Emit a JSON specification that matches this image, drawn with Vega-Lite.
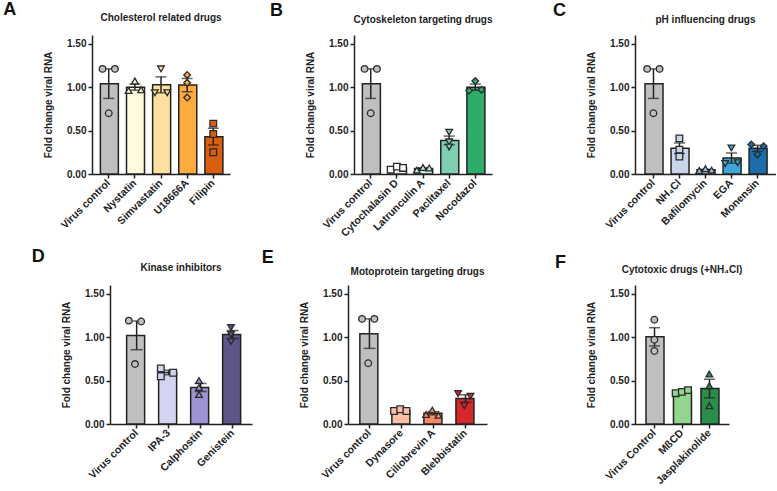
{
  "$schema": "https://vega.github.io/schema/vega-lite/v6.json",
  "background": "white",
  "padding": {"left": 3, "top": 1, "right": 0, "bottom": 0},
  "config": {
    "view": {"stroke": null},
    "font": "Liberation Sans",
    "axis": {"grid": false, "domainColor": "#222", "domainWidth": 1.5, "tickColor": "#222", "tickWidth": 1.5, "tickSize": 4, "labelFont": "Liberation Sans", "labelFontWeight": "bold", "labelFontSize": 10, "labelColor": "#222", "titleFont": "Liberation Sans", "titleFontWeight": "bold", "titleFontSize": 10, "titleColor": "#222"},
    "axisY": {"labelPadding": 2, "titlePadding": 13},
    "axisX": {"labelAngle": -45, "labelAlign": "right", "labelBaseline": "middle", "labelPadding": 3, "labelFontSize": 10.5},
    "title": {"font": "Liberation Sans", "fontSize": 10, "fontWeight": "bold", "color": "#222", "anchor": "middle", "frame": "group", "baseline": "alphabetic"},
    "point": {"size": 44, "strokeWidth": 1.3, "stroke": "#2a2a2a", "opacity": 1}
  },
  "resolve": {"scale": {"fill": "independent", "shape": "independent"}},
  "spacing": 8,
  "vconcat": [
    {
      "bounds": "flush",
      "spacing": 0,
      "resolve": {"scale": {"fill": "independent", "shape": "independent"}},
      "hconcat": [
        {"width": 1, "height": 139, "title": {"text": "A", "anchor": "start", "dx": -87.7, "offset": 15.8, "fontSize": 18, "color": "#111"}, "data": {"values": []}, "mark": "point", "encoding": {}},
        {
          "width": 138, "height": 139,
          "title": {"text": "Cholesterol related drugs", "offset": 12},
          "data": {"values": [
            {"drug": "Virus control", "pos": "L", "value": 1.21},
            {"drug": "Virus control", "pos": "R", "value": 1.21},
            {"drug": "Virus control", "pos": "C", "value": 0.70},
            {"drug": "Nystatin", "pos": "C", "value": 1.07},
            {"drug": "Nystatin", "pos": "L", "value": 0.96},
            {"drug": "Nystatin", "pos": "R", "value": 0.97},
            {"drug": "Simvastatin", "pos": "C", "value": 1.21},
            {"drug": "Simvastatin", "pos": "L", "value": 0.935},
            {"drug": "Simvastatin", "pos": "R", "value": 0.935},
            {"drug": "U18666A", "pos": "C", "value": 1.14},
            {"drug": "U18666A", "pos": "C", "value": 1.05},
            {"drug": "U18666A", "pos": "C", "value": 0.88},
            {"drug": "Filipin", "pos": "C", "value": 0.58},
            {"drug": "Filipin", "pos": "C", "value": 0.46},
            {"drug": "Filipin", "pos": "C", "value": 0.25}
          ]},
          "layer": [
            {"mark": {"type": "bar", "stroke": "#222", "strokeWidth": 1.5},
             "encoding": {
               "x": {"field": "drug", "type": "nominal", "sort": ["Virus control", "Nystatin", "Simvastatin", "U18666A", "Filipin"], "scale": {"paddingInner": 0.36, "paddingOuter": 0.32}, "axis": {"title": null}},
               "y": {"aggregate": "mean", "field": "value", "type": "quantitative", "title": "Fold change viral RNA", "scale": {"domain": [0, 1.5]}, "axis": {"values": [0, 0.25, 0.5, 0.75, 1, 1.25, 1.5], "format": ".2f"}},
               "fill": {"field": "drug", "type": "nominal", "scale": {"domain": ["Virus control", "Nystatin", "Simvastatin", "U18666A", "Filipin"], "range": ["#bfbfbf", "#fffbdc", "#fddf9e", "#fdab3e", "#d95f0e"]}, "legend": null}
             }},
            {"mark": {"type": "errorbar", "extent": "stderr", "color": "#222", "thickness": 1.5, "ticks": {"size": 11, "thickness": 1.5}},
             "encoding": {
               "x": {"field": "drug", "type": "nominal", "sort": ["Virus control", "Nystatin", "Simvastatin", "U18666A", "Filipin"], "title": null},
               "y": {"field": "value", "type": "quantitative", "title": "Fold change viral RNA"}
             }},
            {"mark": {"type": "point", "filled": true},
             "encoding": {
               "x": {"field": "drug", "type": "nominal", "sort": ["Virus control", "Nystatin", "Simvastatin", "U18666A", "Filipin"], "title": null},
               "xOffset": {"field": "pos", "type": "nominal", "scale": {"type": "point", "domain": ["L", "C", "R"], "padding": 0.35}},
               "y": {"field": "value", "type": "quantitative", "title": "Fold change viral RNA"},
               "fill": {"field": "drug", "type": "nominal", "scale": {"domain": ["Virus control", "Nystatin", "Simvastatin", "U18666A", "Filipin"], "range": ["#d0d0d0", "#fffbdc", "#fddf9e", "#fdab3e", "#d95f0e"]}, "legend": null},
               "shape": {"field": "drug", "type": "nominal", "scale": {"domain": ["Virus control", "Nystatin", "Simvastatin", "U18666A", "Filipin"], "range": ["circle", "triangle-up", "triangle-down", "diamond", "square"]}, "legend": null}
             }}
          ]
        },
        {"width": 124, "height": 139, "title": {"text": "B", "anchor": "start", "dx": 40, "offset": 15.2, "fontSize": 18, "color": "#111"}, "data": {"values": []}, "mark": "point", "encoding": {}},
        {
          "width": 138, "height": 139,
          "title": {"text": "Cytoskeleton targeting drugs", "offset": 10.5},
          "data": {"values": [
            {"drug": "Virus control", "pos": "L", "value": 1.21},
            {"drug": "Virus control", "pos": "R", "value": 1.21},
            {"drug": "Virus control", "pos": "C", "value": 0.70},
            {"drug": "Cytochalasin D", "pos": "L", "value": 0.05},
            {"drug": "Cytochalasin D", "pos": "C", "value": 0.085},
            {"drug": "Cytochalasin D", "pos": "R", "value": 0.07},
            {"drug": "Latrunculin A", "pos": "L", "value": 0.045},
            {"drug": "Latrunculin A", "pos": "C", "value": 0.075},
            {"drug": "Latrunculin A", "pos": "R", "value": 0.07},
            {"drug": "Paclitaxel", "pos": "C", "value": 0.48},
            {"drug": "Paclitaxel", "pos": "C", "value": 0.37},
            {"drug": "Paclitaxel", "pos": "C", "value": 0.31},
            {"drug": "Nocodazol", "pos": "C", "value": 1.07},
            {"drug": "Nocodazol", "pos": "L", "value": 0.96},
            {"drug": "Nocodazol", "pos": "R", "value": 0.97}
          ]},
          "layer": [
            {"mark": {"type": "bar", "stroke": "#222", "strokeWidth": 1.5},
             "encoding": {
               "x": {"field": "drug", "type": "nominal", "sort": ["Virus control", "Cytochalasin D", "Latrunculin A", "Paclitaxel", "Nocodazol"], "scale": {"paddingInner": 0.36, "paddingOuter": 0.32}, "axis": {"title": null}},
               "y": {"aggregate": "mean", "field": "value", "type": "quantitative", "title": "Fold change viral RNA", "scale": {"domain": [0, 1.5]}, "axis": {"values": [0, 0.25, 0.5, 0.75, 1, 1.25, 1.5], "format": ".2f"}},
               "fill": {"field": "drug", "type": "nominal", "scale": {"domain": ["Virus control", "Cytochalasin D", "Latrunculin A", "Paclitaxel", "Nocodazol"], "range": ["#bfbfbf", "#f5fbf8", "#c7eadc", "#7fd0b0", "#2fab6c"]}, "legend": null}
             }},
            {"mark": {"type": "errorbar", "extent": "stderr", "color": "#222", "thickness": 1.5, "ticks": {"size": 11, "thickness": 1.5}},
             "encoding": {
               "x": {"field": "drug", "type": "nominal", "sort": ["Virus control", "Cytochalasin D", "Latrunculin A", "Paclitaxel", "Nocodazol"], "title": null},
               "y": {"field": "value", "type": "quantitative", "title": "Fold change viral RNA"}
             }},
            {"mark": {"type": "point", "filled": true},
             "encoding": {
               "x": {"field": "drug", "type": "nominal", "sort": ["Virus control", "Cytochalasin D", "Latrunculin A", "Paclitaxel", "Nocodazol"], "title": null},
               "xOffset": {"field": "pos", "type": "nominal", "scale": {"type": "point", "domain": ["L", "C", "R"], "padding": 0.35}},
               "y": {"field": "value", "type": "quantitative", "title": "Fold change viral RNA"},
               "fill": {"field": "drug", "type": "nominal", "scale": {"domain": ["Virus control", "Cytochalasin D", "Latrunculin A", "Paclitaxel", "Nocodazol"], "range": ["#d0d0d0", "#f5fbf8", "#c7eadc", "#7fd0b0", "#2fab6c"]}, "legend": null},
               "shape": {"field": "drug", "type": "nominal", "scale": {"domain": ["Virus control", "Cytochalasin D", "Latrunculin A", "Paclitaxel", "Nocodazol"], "range": ["circle", "square", "triangle-up", "triangle-down", "diamond"]}, "legend": null}
             }}
          ]
        },
        {"width": 143, "height": 139, "title": {"text": "C", "anchor": "start", "dx": 61, "offset": 15.5, "fontSize": 18, "color": "#111"}, "data": {"values": []}, "mark": "point", "encoding": {}},
        {
          "width": 141, "height": 139,
          "title": {"text": "pH influencing drugs", "offset": 10.5},
          "data": {"values": [
            {"drug": "Virus control", "pos": "L", "value": 1.21},
            {"drug": "Virus control", "pos": "R", "value": 1.21},
            {"drug": "Virus control", "pos": "C", "value": 0.70},
            {"drug": "NH₄Cl", "pos": "C", "value": 0.41},
            {"drug": "NH₄Cl", "pos": "C", "value": 0.28},
            {"drug": "NH₄Cl", "pos": "C", "value": 0.20},
            {"drug": "Bafilomycin", "pos": "L", "value": 0.04},
            {"drug": "Bafilomycin", "pos": "C", "value": 0.06},
            {"drug": "Bafilomycin", "pos": "R", "value": 0.045},
            {"drug": "EGA", "pos": "C", "value": 0.30},
            {"drug": "EGA", "pos": "L", "value": 0.12},
            {"drug": "EGA", "pos": "R", "value": 0.13},
            {"drug": "Monensin", "pos": "L", "value": 0.34},
            {"drug": "Monensin", "pos": "R", "value": 0.32},
            {"drug": "Monensin", "pos": "C", "value": 0.225}
          ]},
          "layer": [
            {"mark": {"type": "bar", "stroke": "#222", "strokeWidth": 1.5},
             "encoding": {
               "x": {"field": "drug", "type": "nominal", "sort": ["Virus control", "NH₄Cl", "Bafilomycin", "EGA", "Monensin"], "scale": {"paddingInner": 0.35, "paddingOuter": 0.385}, "axis": {"title": null}},
               "y": {"aggregate": "mean", "field": "value", "type": "quantitative", "title": "Fold change viral RNA", "scale": {"domain": [0, 1.5]}, "axis": {"values": [0, 0.25, 0.5, 0.75, 1, 1.25, 1.5], "format": ".2f"}},
               "fill": {"field": "drug", "type": "nominal", "scale": {"domain": ["Virus control", "NH₄Cl", "Bafilomycin", "EGA", "Monensin"], "range": ["#bfbfbf", "#c8d5ea", "#9fc2de", "#3fa6da", "#1b6ea9"]}, "legend": null}
             }},
            {"mark": {"type": "errorbar", "extent": "stderr", "color": "#222", "thickness": 1.5, "ticks": {"size": 11, "thickness": 1.5}},
             "encoding": {
               "x": {"field": "drug", "type": "nominal", "sort": ["Virus control", "NH₄Cl", "Bafilomycin", "EGA", "Monensin"], "title": null},
               "y": {"field": "value", "type": "quantitative", "title": "Fold change viral RNA"}
             }},
            {"mark": {"type": "point", "filled": true},
             "encoding": {
               "x": {"field": "drug", "type": "nominal", "sort": ["Virus control", "NH₄Cl", "Bafilomycin", "EGA", "Monensin"], "title": null},
               "xOffset": {"field": "pos", "type": "nominal", "scale": {"type": "point", "domain": ["L", "C", "R"], "padding": 0.35}},
               "y": {"field": "value", "type": "quantitative", "title": "Fold change viral RNA"},
               "fill": {"field": "drug", "type": "nominal", "scale": {"domain": ["Virus control", "NH₄Cl", "Bafilomycin", "EGA", "Monensin"], "range": ["#d0d0d0", "#c8d5ea", "#9fc2de", "#3fa6da", "#1b6ea9"]}, "legend": null},
               "shape": {"field": "drug", "type": "nominal", "scale": {"domain": ["Virus control", "NH₄Cl", "Bafilomycin", "EGA", "Monensin"], "range": ["circle", "square", "triangle-up", "triangle-down", "diamond"]}, "legend": null}
             }}
          ]
        }
      ]
    },
    {
      "bounds": "flush",
      "spacing": 0,
      "resolve": {"scale": {"fill": "independent", "shape": "independent"}},
      "hconcat": [
        {"width": 19, "height": 139, "title": {"text": "D", "anchor": "start", "dx": -59.3, "offset": 19.3, "fontSize": 18, "color": "#111"}, "data": {"values": []}, "mark": "point", "encoding": {}},
        {
          "width": 142, "height": 139,
          "title": {"text": "Kinase inhibitors", "offset": 11.7},
          "data": {"values": [
            {"drug": "Virus control", "pos": "L", "value": 1.19},
            {"drug": "Virus control", "pos": "R", "value": 1.18},
            {"drug": "Virus control", "pos": "C", "value": 0.69},
            {"drug": "IPA-3", "pos": "L", "value": 0.64},
            {"drug": "IPA-3", "pos": "L", "value": 0.55},
            {"drug": "IPA-3", "pos": "R", "value": 0.59},
            {"drug": "Calphostin", "pos": "C", "value": 0.50},
            {"drug": "Calphostin", "pos": "C", "value": 0.42},
            {"drug": "Calphostin", "pos": "C", "value": 0.34},
            {"drug": "Genistein", "pos": "C", "value": 1.11},
            {"drug": "Genistein", "pos": "C", "value": 1.03},
            {"drug": "Genistein", "pos": "C", "value": 0.95}
          ]},
          "layer": [
            {"mark": {"type": "bar", "stroke": "#222", "strokeWidth": 1.5},
             "encoding": {
               "x": {"field": "drug", "type": "nominal", "sort": ["Virus control", "IPA-3", "Calphostin", "Genistein"], "scale": {"paddingInner": 0.375, "paddingOuter": 0.406, "align": 0.64}, "axis": {"title": null}},
               "y": {"aggregate": "mean", "field": "value", "type": "quantitative", "title": "Fold change viral RNA", "scale": {"domain": [0, 1.5]}, "axis": {"values": [0, 0.25, 0.5, 0.75, 1, 1.25, 1.5], "format": ".2f"}},
               "fill": {"field": "drug", "type": "nominal", "scale": {"domain": ["Virus control", "IPA-3", "Calphostin", "Genistein"], "range": ["#bfbfbf", "#d3d4f0", "#9d92d2", "#5f5586"]}, "legend": null}
             }},
            {"mark": {"type": "errorbar", "extent": "stderr", "color": "#222", "thickness": 1.5, "ticks": {"size": 12, "thickness": 1.5}},
             "encoding": {
               "x": {"field": "drug", "type": "nominal", "sort": ["Virus control", "IPA-3", "Calphostin", "Genistein"], "title": null},
               "y": {"field": "value", "type": "quantitative", "title": "Fold change viral RNA"}
             }},
            {"mark": {"type": "point", "filled": true},
             "encoding": {
               "x": {"field": "drug", "type": "nominal", "sort": ["Virus control", "IPA-3", "Calphostin", "Genistein"], "title": null},
               "xOffset": {"field": "pos", "type": "nominal", "scale": {"type": "point", "domain": ["L", "C", "R"], "padding": 0.28}},
               "y": {"field": "value", "type": "quantitative", "title": "Fold change viral RNA"},
               "fill": {"field": "drug", "type": "nominal", "scale": {"domain": ["Virus control", "IPA-3", "Calphostin", "Genistein"], "range": ["#d0d0d0", "#d3d4f0", "#9d92d2", "#5f5586"]}, "legend": null},
               "shape": {"field": "drug", "type": "nominal", "scale": {"domain": ["Virus control", "IPA-3", "Calphostin", "Genistein"], "range": ["circle", "square", "triangle-up", "triangle-down"]}, "legend": null}
             }}
          ]
        },
        {"width": 96, "height": 139, "title": {"text": "E", "anchor": "start", "dx": 9.7, "offset": 17.7, "fontSize": 18, "color": "#111"}, "data": {"values": []}, "mark": "point", "encoding": {}},
        {
          "width": 139, "height": 139,
          "title": {"text": "Motoprotein targeting drugs", "offset": 8.3},
          "data": {"values": [
            {"drug": "Virus control", "pos": "L", "value": 1.21},
            {"drug": "Virus control", "pos": "R", "value": 1.21},
            {"drug": "Virus control", "pos": "C", "value": 0.70},
            {"drug": "Dynasore", "pos": "L", "value": 0.15},
            {"drug": "Dynasore", "pos": "C", "value": 0.17},
            {"drug": "Dynasore", "pos": "R", "value": 0.15},
            {"drug": "Ciliobrevin A", "pos": "L", "value": 0.11},
            {"drug": "Ciliobrevin A", "pos": "C", "value": 0.16},
            {"drug": "Ciliobrevin A", "pos": "R", "value": 0.10},
            {"drug": "Blebbistatin", "pos": "L", "value": 0.35},
            {"drug": "Blebbistatin", "pos": "R", "value": 0.32},
            {"drug": "Blebbistatin", "pos": "C", "value": 0.21}
          ]},
          "layer": [
            {"mark": {"type": "bar", "stroke": "#222", "strokeWidth": 1.5},
             "encoding": {
               "x": {"field": "drug", "type": "nominal", "sort": ["Virus control", "Dynasore", "Ciliobrevin A", "Blebbistatin"], "scale": {"paddingInner": 0.4, "paddingOuter": 0.37}, "axis": {"title": null}},
               "y": {"aggregate": "mean", "field": "value", "type": "quantitative", "title": "Fold change viral RNA", "scale": {"domain": [0, 1.5]}, "axis": {"values": [0, 0.25, 0.5, 0.75, 1, 1.25, 1.5], "format": ".2f"}},
               "fill": {"field": "drug", "type": "nominal", "scale": {"domain": ["Virus control", "Dynasore", "Ciliobrevin A", "Blebbistatin"], "range": ["#bfbfbf", "#fdc0a7", "#fb8b68", "#d8272b"]}, "legend": null}
             }},
            {"mark": {"type": "errorbar", "extent": "stderr", "color": "#222", "thickness": 1.5, "ticks": {"size": 12, "thickness": 1.5}},
             "encoding": {
               "x": {"field": "drug", "type": "nominal", "sort": ["Virus control", "Dynasore", "Ciliobrevin A", "Blebbistatin"], "title": null},
               "y": {"field": "value", "type": "quantitative", "title": "Fold change viral RNA"}
             }},
            {"mark": {"type": "point", "filled": true},
             "encoding": {
               "x": {"field": "drug", "type": "nominal", "sort": ["Virus control", "Dynasore", "Ciliobrevin A", "Blebbistatin"], "title": null},
               "xOffset": {"field": "pos", "type": "nominal", "scale": {"type": "point", "domain": ["L", "C", "R"], "padding": 0.22}},
               "y": {"field": "value", "type": "quantitative", "title": "Fold change viral RNA"},
               "fill": {"field": "drug", "type": "nominal", "scale": {"domain": ["Virus control", "Dynasore", "Ciliobrevin A", "Blebbistatin"], "range": ["#d0d0d0", "#fdc0a7", "#fb8b68", "#d8272b"]}, "legend": null},
               "shape": {"field": "drug", "type": "nominal", "scale": {"domain": ["Virus control", "Dynasore", "Ciliobrevin A", "Blebbistatin"], "range": ["circle", "square", "triangle-up", "triangle-down"]}, "legend": null}
             }}
          ]
        },
        {"width": 148, "height": 139, "title": {"text": "F", "anchor": "start", "dx": 68, "offset": 12.7, "fontSize": 18, "color": "#111"}, "data": {"values": []}, "mark": "point", "encoding": {}},
        {
          "width": 94, "height": 139,
          "title": {"text": "Cytotoxic drugs (+NH₄Cl)", "offset": 10},
          "data": {"values": [
            {"drug": "Virus Control", "pos": "C", "value": 1.20},
            {"drug": "Virus Control", "pos": "C", "value": 0.97},
            {"drug": "Virus Control", "pos": "C", "value": 0.84},
            {"drug": "MßCD", "pos": "L", "value": 0.355},
            {"drug": "MßCD", "pos": "C", "value": 0.37},
            {"drug": "MßCD", "pos": "R", "value": 0.39},
            {"drug": "Jasplakinolide", "pos": "C", "value": 0.575},
            {"drug": "Jasplakinolide", "pos": "C", "value": 0.44},
            {"drug": "Jasplakinolide", "pos": "C", "value": 0.21}
          ]},
          "layer": [
            {"mark": {"type": "bar", "stroke": "#222", "strokeWidth": 1.5},
             "encoding": {
               "x": {"field": "drug", "type": "nominal", "sort": ["Virus Control", "MßCD", "Jasplakinolide"], "scale": {"paddingInner": 0.38, "paddingOuter": 0.4}, "axis": {"title": null}},
               "y": {"aggregate": "mean", "field": "value", "type": "quantitative", "title": "Fold change viral RNA", "scale": {"domain": [0, 1.5]}, "axis": {"values": [0, 0.25, 0.5, 0.75, 1, 1.25, 1.5], "format": ".2f"}},
               "fill": {"field": "drug", "type": "nominal", "scale": {"domain": ["Virus Control", "MßCD", "Jasplakinolide"], "range": ["#bfbfbf", "#93d48e", "#2b8d4b"]}, "legend": null}
             }},
            {"mark": {"type": "errorbar", "extent": "stderr", "color": "#222", "thickness": 1.5, "ticks": {"size": 11, "thickness": 1.5}},
             "encoding": {
               "x": {"field": "drug", "type": "nominal", "sort": ["Virus Control", "MßCD", "Jasplakinolide"], "title": null},
               "y": {"field": "value", "type": "quantitative", "title": "Fold change viral RNA"}
             }},
            {"mark": {"type": "point", "filled": true},
             "encoding": {
               "x": {"field": "drug", "type": "nominal", "sort": ["Virus Control", "MßCD", "Jasplakinolide"], "title": null},
               "xOffset": {"field": "pos", "type": "nominal", "scale": {"type": "point", "domain": ["L", "C", "R"], "padding": 0.35}},
               "y": {"field": "value", "type": "quantitative", "title": "Fold change viral RNA"},
               "fill": {"field": "drug", "type": "nominal", "scale": {"domain": ["Virus Control", "MßCD", "Jasplakinolide"], "range": ["#d0d0d0", "#93d48e", "#2b8d4b"]}, "legend": null},
               "shape": {"field": "drug", "type": "nominal", "scale": {"domain": ["Virus Control", "MßCD", "Jasplakinolide"], "range": ["circle", "square", "triangle-up"]}, "legend": null}
             }}
          ]
        }
      ]
    }
  ]
}
